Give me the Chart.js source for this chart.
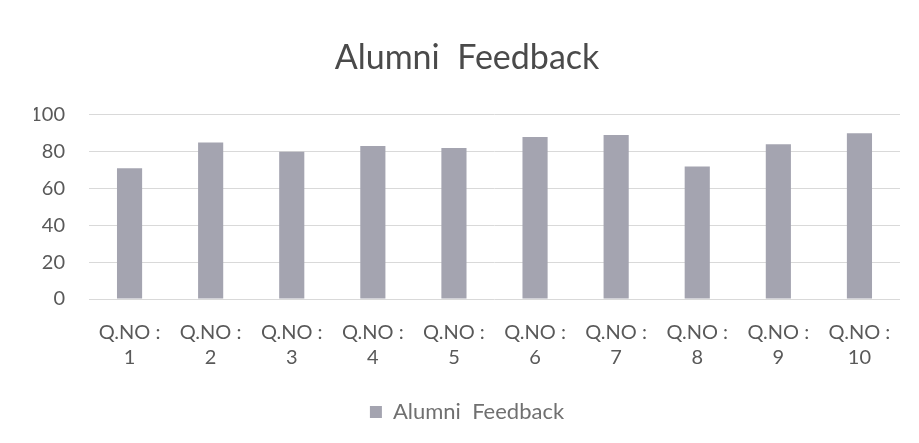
<!DOCTYPE html>
<html>
<head>
<meta charset="utf-8">
<script src="https://cdn.jsdelivr.net/npm/chart.js@4.4.0/dist/chart.umd.min.js"></script>
<style>
  html, body { margin: 0; padding: 0; background: #fff; }
  #wrap { width: 919px; height: 443px; }
</style>
</head>
<body>
<div id="wrap"><canvas id="myChart"></canvas></div>
<script>
// question labels (two lines each) and feedback scores
var questionNos = ["1", "2", "3", "4", "5", "6", "7", "8", "9", "10"];
var feedbackScores = [71, 85, 80, 83, 82, 88, 89, 72, 84, 90];
var yTicks = [0, 20, 40, 60, 80, 100];

var labels = questionNos.map(function (n) {
  return ["Q.NO :", n];
});

Chart.defaults.font.family = "Lato, 'Open Sans', sans-serif";
Chart.defaults.color = "#595959";

const ctx = document.getElementById("myChart");
new Chart(ctx, {
  type: "bar",
  data: {
    labels: labels,
    datasets: [{
      label: "Alumni  Feedback",
      data: feedbackScores,
      backgroundColor: "#a4a4b0",
      categoryPercentage: 1,
      barPercentage: 0.31,
    }],
  },
  options: {
    responsive: true,
    maintainAspectRatio: false,
    animation: false,
    layout: { padding: { left: 34, right: 19, top: 38, bottom: 10 } },
    plugins: {
      title: {
        display: true,
        text: "Alumni  Feedback",
        font: { size: 34, weight: "normal" },
        color: "#4a4a4a",
        padding: { top: 0, bottom: 36 },
      },
      legend: {
        position: "bottom",
        labels: {
          boxWidth: 12,
          boxHeight: 12,
          font: { size: 22 },
          color: "#707070",
          padding: 10,
        },
      },
      tooltip: { enabled: false },
    },
    scales: {
      x: {
        grid: { display: false, drawTicks: false },
        border: { display: false },
        ticks: {
          font: { size: 20, lineHeight: 1.25 },
          color: "#595959",
          maxRotation: 0,
          padding: 21,
        },
      },
      y: {
        min: 0,
        max: 100,
        afterBuildTicks: function (axis) {
          axis.ticks = yTicks.map(function (v) { return { value: v }; });
        },
        afterFit: function (scale) {
          scale.width = 55;
        },
        grid: { color: "#d9d9d9", drawTicks: false },
        border: { display: false },
        ticks: { font: { size: 20 }, color: "#595959", padding: 24 },
      },
    },
  },
});
</script>
</body>
</html>
